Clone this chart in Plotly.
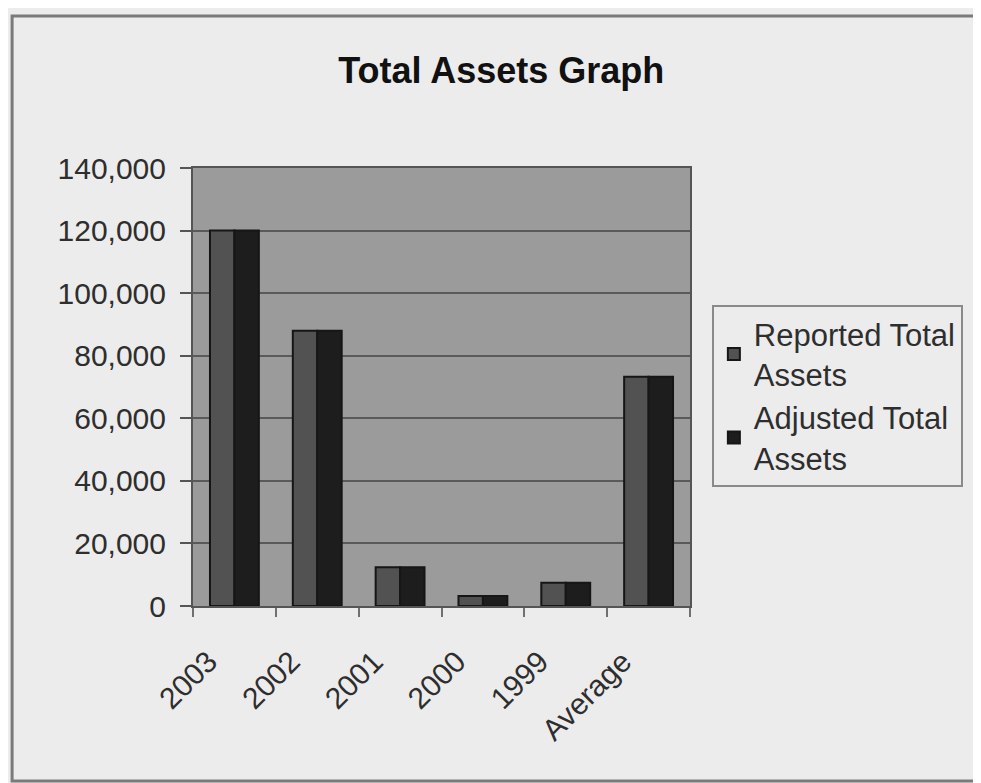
import plotly.graph_objects as go

categories = ["2003", "2002", "2001", "2000", "1999", "Average"]
reported_total_assets = [120000, 88000, 12400, 3200, 7400, 73300]
adjusted_total_assets = [120000, 88000, 12400, 3200, 7400, 73300]
y_tick_values = [0, 20000, 40000, 60000, 80000, 100000, 120000, 140000]

FONT = "Liberation Sans, Arial, sans-serif"

fig = go.Figure()
fig.add_trace(go.Bar(
    x=categories, y=reported_total_assets, name="Reported Total<br>Assets",
    marker=dict(color="#525252", line=dict(color="#161616", width=2)),
))
fig.add_trace(go.Bar(
    x=categories, y=adjusted_total_assets, name="Adjusted Total<br>Assets",
    marker=dict(color="#1d1d1d", line=dict(color="#161616", width=2)),
))

fig.update_layout(
    width=973, height=775,
    margin=dict(l=185, r=291, t=160, b=177),
    paper_bgcolor="#ececec",
    plot_bgcolor="#9b9b9b",
    barmode="group", bargap=0.41, bargroupgap=0,
    font=dict(family=FONT, size=30, color="#2e2e2e"),
    title=dict(text="<b>Total Assets Graph</b>", x=0.507, xanchor="center",
               y=0.92, yanchor="middle", yref="container",
               font=dict(family=FONT, size=36, color="#111111")),
    legend=dict(x=1.044, xanchor="left", y=0.687, yanchor="top",
                bgcolor="#ececec", bordercolor="#8a8a8a", borderwidth=2,
                font=dict(family=FONT, size=31, color="#2e2e2e"),
                itemwidth=30, tracegroupgap=0),
    xaxis=dict(type="category", tickangle=-45, tickson="boundaries",
               ticks="outside", ticklen=9, tickwidth=2, tickcolor="#707070",
               showline=True, linecolor="#555555", linewidth=2, mirror=True,
               showgrid=False, ticklabelstandoff=24, ticklabelshift=-26,
               tickfont=dict(family=FONT, size=30, color="#2e2e2e")),
    yaxis=dict(range=[0, 140000], tickvals=y_tick_values, tickformat=",",
               ticks="outside", ticklen=11, tickwidth=2, tickcolor="#555555",
               showline=True, linecolor="#555555", linewidth=2, mirror=True,
               showgrid=True, gridcolor="#5a5a5a", gridwidth=2,
               zeroline=False, ticklabelstandoff=8,
               tickfont=dict(family=FONT, size=30, color="#2e2e2e")),
    shapes=[dict(type="rect", xref="paper", yref="paper",
                 x0=-0.364, x1=1.60, y0=-0.3995, y1=1.347,
                 line=dict(color="#7a7a7a", width=3), layer="below")],
)

fig.write_html("out.html")
